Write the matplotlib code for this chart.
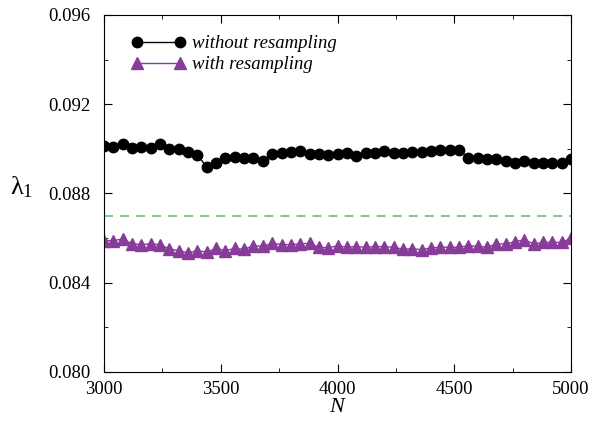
import numpy as np
import matplotlib
matplotlib.use("Agg")
import matplotlib.pyplot as plt
from matplotlib.ticker import MultipleLocator, FormatStrFormatter

N = np.arange(3000, 5001, 40)

without_resampling = [
    0.09013, 0.0901, 0.0902, 0.09005, 0.0901, 0.09002, 0.0902, 0.08998, 0.0900, 0.08987,
    0.08971, 0.0892, 0.08938, 0.0896, 0.08962, 0.08958, 0.0896, 0.08946, 0.08976, 0.0898,
    0.08987, 0.0899, 0.08978, 0.08976, 0.08973, 0.08978, 0.0898, 0.08968, 0.08983, 0.08983,
    0.0899, 0.0898, 0.0898, 0.08985, 0.08985, 0.0899, 0.08995, 0.08995, 0.08995, 0.08958,
    0.0896, 0.08953, 0.08953, 0.08946, 0.08938, 0.08946, 0.08935, 0.08935, 0.08935, 0.08938,
    0.08953,
]

with_resampling = [
    0.08589, 0.08589, 0.08596, 0.08574, 0.08571, 0.08574, 0.08571, 0.08551, 0.08544, 0.08534,
    0.08544, 0.08537, 0.08554, 0.08544, 0.08554, 0.0855, 0.08566, 0.08563, 0.08577, 0.08571,
    0.08571, 0.08574, 0.08577, 0.08559, 0.08556, 0.08566, 0.08559, 0.08562, 0.08559, 0.08562,
    0.08562, 0.08559, 0.0855, 0.08553, 0.08548, 0.08556, 0.08559, 0.08559, 0.08559, 0.08566,
    0.08563, 0.08559, 0.08574, 0.08574, 0.08584, 0.08593, 0.08574, 0.08581, 0.08581, 0.08581,
    0.08599,
]

reference_level = 0.087

plt.rcParams["font.family"] = ["Liberation Serif", "DejaVu Serif"]
plt.rcParams["mathtext.fontset"] = "custom"
plt.rcParams["mathtext.rm"] = "Liberation Serif"
plt.rcParams["mathtext.it"] = "Liberation Serif:italic"

fig = plt.figure(figsize=(5.92, 4.21), dpi=100)
ax = fig.add_axes([0.1757, 0.1164, 0.789, 0.848])

ax.axhline(reference_level, color="#7fcc8f", lw=1.5, ls=(0, (4.3, 3.4)))
ax.plot(N, without_resampling, "-o", color="black", lw=1, ms=7.5,
        label="without resampling")
ax.plot(N, with_resampling, "-^", color="#883c99", lw=1, ms=8.5,
        label="with resampling")

ax.set_xlim(3000, 5000)
ax.set_ylim(0.080, 0.096)
ax.xaxis.set_major_locator(MultipleLocator(500))
ax.xaxis.set_minor_locator(MultipleLocator(250))
ax.yaxis.set_major_locator(MultipleLocator(0.004))
ax.yaxis.set_minor_locator(MultipleLocator(0.002))
ax.yaxis.set_major_formatter(FormatStrFormatter("%.3f"))
ax.tick_params(which="both", direction="in", top=True, right=True, labelsize=13.5)
ax.tick_params(which="major", length=6)
ax.tick_params(which="minor", length=3)
ax.tick_params(axis="y", pad=10)
ax.tick_params(axis="x", pad=6.5)

ax.set_xlabel("$N$", fontsize=16, labelpad=0)
fig.text(22 / 592, 1 - 187 / 421, "λ$_1$", fontsize=19, ha="center", va="center")

leg = ax.legend(loc="upper left", frameon=False, numpoints=2, handlelength=2.9,
                borderaxespad=0, borderpad=0, handletextpad=0.34, labelspacing=0.2,
                prop={"style": "italic", "size": 13.5}, bbox_to_anchor=(0.0587, 0.943))

fig.savefig("out.png", dpi=100)
